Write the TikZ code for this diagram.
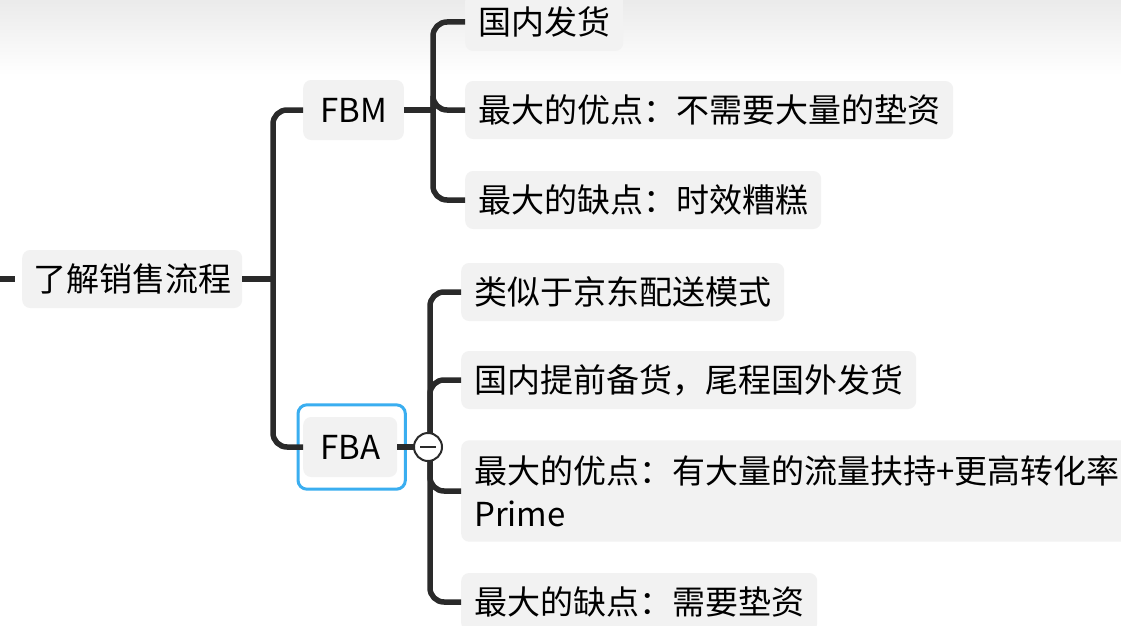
\documentclass[tikz,border=0pt]{standalone}
\usepackage{fontspec}
\setmainfont{Noto Sans CJK SC}
\definecolor{linegray}{HTML}{2A2A2A}
\definecolor{boxgray}{HTML}{F2F2F2}
\definecolor{selblue}{HTML}{3AAEF0}

\begin{document}
\begin{tikzpicture}[
          x=1pt, y=-1pt,
          topic/.style={
            fill=boxgray,
            rounded corners=8pt,
            anchor=west,
            inner xsep=13pt,
            inner ysep=0pt,
            minimum height=58pt,
            align=left,
            font=\fontsize{33}{43}\selectfont,
          },
          main/.style={
            topic,
            inner xsep=17pt,
            minimum height=60pt,
          },
          branch/.style={
            draw=linegray,
            line width=5.5pt,
            rounded corners=14pt,
            to path={|- (\tikztotarget)},
          },
          stem/.style={
            draw=linegray,
            line width=5.5pt,
          },
          fold/.style={
            circle,
            draw=linegray,
            line width=2pt,
            fill=white,
            minimum size=28pt,
            inner sep=0pt,
            path picture={\draw[line width=2pt]
              ([xshift=-8pt]path picture bounding box.center) --
              ([xshift=8pt]path picture bounding box.center);},
          },
        ]
          \useasboundingbox[fill=white] (0,0) rectangle (1121,626);
          \fill[top color=black!8, bottom color=white] (0,0) rectangle (1121,75);

          \node[topic, inner xsep=11pt] (root) at (22,279) {了解销售流程};
          \node[main] (fbm) at (303,110) {FBM};
          \node[main] (fba) at (303,447) {FBA};
          \draw[selblue, line width=3pt, rounded corners=9pt]
            ([xshift=-5pt, yshift=-12pt]fba.south west) rectangle
            ([xshift=8pt, yshift=12pt]fba.north east);

          \node[topic] (m1) at (465,22) {国内发货};
          \node[topic] (m2) at (465,110) {最大的优点：不需要大量的垫资};
          \node[topic] (m3) at (465,200) {最大的缺点：时效糟糕};

          \node[topic] (a1) at (461,292) {类似于京东配送模式};
          \node[topic] (a2) at (461,380) {国内提前备货，尾程国外发货};
          \node[topic, inner ysep=15pt] (a3) at (461,491)
            {最大的优点：有大量的流量扶持+更高转化率\\Prime};
          \node[topic] (a4) at (461,602) {最大的缺点：需要垫资};

          \coordinate (rootin) at (0,279);
          \coordinate (rootstub) at (15,279);
          \coordinate (rootj) at (273,279);
          \coordinate (fbmj) at (433,110);
          \coordinate (fbaj) at (430,447);

          \draw
              (rootin) edge [stem] (rootstub)
              (root.east) edge [stem] (rootj)
              (rootj) edge [branch] (fbm.west)
              (rootj) edge [branch] (fba.west)

              (fbm.east) edge [stem] (fbmj)
              (fbmj) edge [branch] (m1.west)
              (fbmj) edge [branch] (m2.west)
              (fbmj) edge [branch] (m3.west)

              (fba.east) edge [stem] (fbaj)
              (fbaj) edge [branch] (a1.west)
              (fbaj) edge [branch] (a2.west)
              (fbaj) edge [branch] (a3.west)
              (fbaj) edge [branch] (a4.west);

          \node[fold] (fbafold) at (428,447) {};
        \end{tikzpicture}
\end{document}
